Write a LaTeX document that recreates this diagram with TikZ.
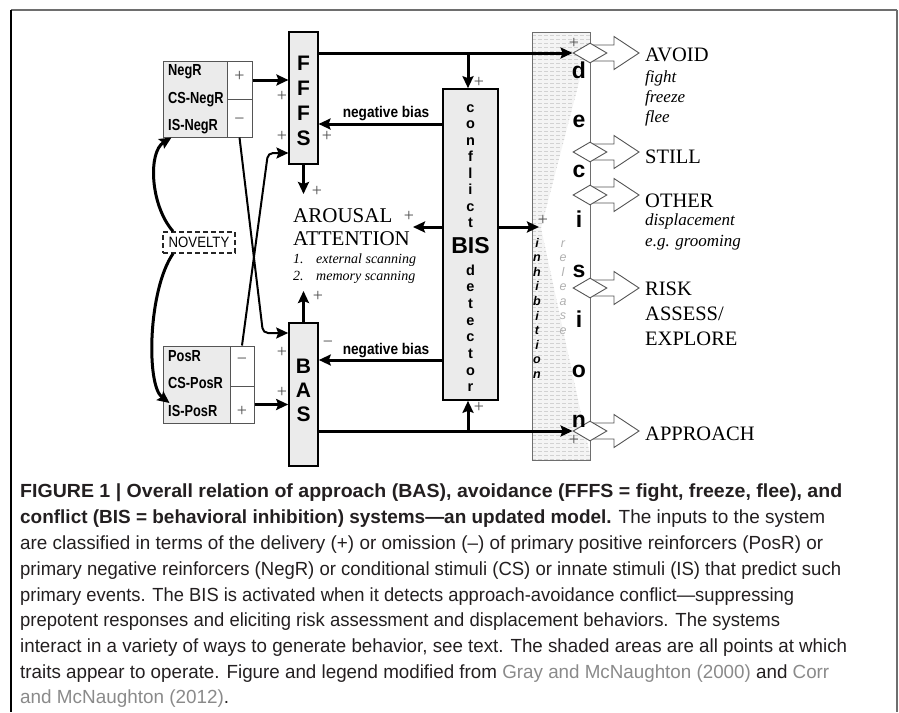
\documentclass[tikz,border=0pt]{standalone}
\usepackage{fontspec}
\usepackage{graphicx}
\setmainfont{Liberation Serif}
\setsansfont{Liberation Sans}
\newfontfamily\narrowf[FakeStretch=0.88]{Liberation Sans}
\newfontfamily\inputf[FakeStretch=0.8]{Liberation Sans}
\newfontfamily\capfont{Liberation Sans}
\usetikzlibrary{arrows.meta,shapes.geometric}
\definecolor{boxgray}{HTML}{EBEBEB}
\definecolor{bordergray}{HTML}{555555}
\definecolor{capgray}{HTML}{8A8A8A}
\definecolor{captext}{HTML}{231F20}
\definecolor{framegray}{HTML}{6E6E6E}
\definecolor{relgray}{HTML}{B0B0B0}
\definecolor{shadegray}{HTML}{F4F4F4}
\definecolor{dashgray}{HTML}{D2D2D2}
\tikzset{
 sysbox/.style={draw=black, line width=1.6pt, fill=boxgray, inner sep=0pt},
 inbox/.style={draw=bordergray, line width=1pt, fill=boxgray, inner sep=0pt},
 cell/.style={draw=bordergray, line width=1pt, fill=white, inner sep=0pt},
 arr/.style={line width=3pt, -{Stealth[length=12pt,width=11pt,inset=2pt]}},
 thinarr/.style={line width=2pt, rounded corners=5pt, -{Stealth[length=12pt,width=11pt,inset=2pt]}},
 curvearr/.style={line width=3pt, -{Stealth[length=12pt,width=11pt,inset=2pt]}},
 pl/.style={font=\fontsize{18}{18}\selectfont, text=black!70, inner sep=0pt},
 sysl/.style={font=\sffamily\bfseries\fontsize{21}{21}\selectfont, inner sep=0pt, anchor=base},
 bisl/.style={font=\sffamily\bfseries\fontsize{14.5}{14.5}\selectfont, inner sep=0pt, anchor=base},
 bigl/.style={font=\sffamily\bfseries\fontsize{23}{23}\selectfont, inner sep=0pt, anchor=base},
 decl/.style={font=\sffamily\bfseries\fontsize{23}{23}\selectfont, inner sep=0pt, anchor=base},
 inhl/.style={font=\sffamily\bfseries\itshape\fontsize{12.5}{12.5}\selectfont, inner sep=0pt, anchor=base},
 rell/.style={font=\sffamily\itshape\fontsize{12.5}{12.5}\selectfont, text=relgray, inner sep=0pt, anchor=base},
 inl/.style={font=\inputf\bfseries\fontsize{16}{16}\selectfont, inner sep=0pt, anchor=base west},
 outl/.style={font=\fontsize{20.5}{20.5}\selectfont, inner sep=0pt, anchor=base west},
 outi/.style={font=\itshape\fontsize{17}{17}\selectfont, inner sep=0pt, anchor=base west},
 ari/.style={font=\itshape\fontsize{14}{14}\selectfont, inner sep=0pt, anchor=base west},
 diam/.style={diamond, draw=bordergray, line width=0.9pt, fill=white, minimum width=34pt, minimum height=20pt, inner sep=0pt},
 blk/.style={draw=bordergray, line width=0.9pt, fill=white},
 novbox/.style={draw=black!85, line width=1.4pt, dash pattern=on 5pt off 3pt, minimum width=72pt, minimum height=21pt, inner sep=0pt, font=\narrowf\fontsize{15}{15}\selectfont},
 capl/.style={font=\capfont\fontsize{19}{19}\selectfont, text=captext, inner sep=0pt, anchor=base west},
 biasl/.style={font=\narrowf\bfseries\fontsize{15.5}{15.5}\selectfont, inner sep=0pt, anchor=base},
}
\begin{document}
\begin{tikzpicture}[x=1pt,y=-1pt]
\useasboundingbox (0,0) rectangle (899,712);
% frame
\draw[framegray, line width=2pt] (11,10) -- (897,10);
\draw[black, line width=2pt] (11,10) -- (11,712);
\draw[framegray, line width=2pt] (897,10) -- (897,712);

% decision column with shading
\begin{scope}
\clip (532,32) -- (590,32) -- (590,40) -- (541,228) -- (590,455) -- (590,460) -- (532,460) -- cycle;
\fill[shadegray] (532,32) rectangle (590,460);
\foreach \yy in {35,39,...,460} \draw[dashgray, line width=0.7pt, dash pattern=on 4pt off 2pt] (532,\yy) -- (590,\yy);
\end{scope}
\node[draw=framegray, line width=0.9pt, minimum width=58pt, minimum height=428pt, inner sep=0pt] (dec) at (561,246) {};

% block arrows
\foreach \yy in {53,152,195,288,431} {
  \draw[blk] (590,\yy-8) -- (614,\yy-8) -- (614,\yy-16.5) -- (639,\yy) -- (614,\yy+16.5) -- (614,\yy+8) -- (590,\yy+8);
}
\node[diam] (dc1) at (590,53) {};
\node[diam] (dc2) at (590,152) {};
\node[diam] (dc3) at (590,195) {};
\node[diam] (dc4) at (590,288) {};
\node[diam] (dc5) at (590,431) {};

% decision letters
\foreach \c [count=\i] in {d,e,c,i,s,i,o,n} \node[decl] (dl\i) at (579,{78+(\i-1)*49.9}) {\c};
\foreach \c [count=\i] in {i,n,h,i,b,i,t,i,o,n} \node[inhl] (ih\i) at (537,{247+(\i-1)*14.6}) {\c};
\foreach \c [count=\i] in {r,e,l,e,a,s,e} \node[rell] (rl\i) at (563,{247+(\i-1)*14.5}) {\c};

% input boxes
\node[inbox, minimum width=89pt, minimum height=76pt] (negbox) at (207.5,99) {};
\node[cell, minimum width=25pt, minimum height=38pt] (negp) at (239.5,80) {};
\node[cell, minimum width=25pt, minimum height=38pt] (negm) at (239.5,118) {};
\node[inl] (n1) at (168,75) {NegR};
\node[inl] (n2) at (168,103) {CS-NegR};
\node[inl] (n3) at (168,130) {IS-NegR};
\node[pl] (np) at (239.5,76) {+};
\node[pl] (nm) at (239.5,121) {−};

\node[inbox, minimum width=91pt, minimum height=77pt] (posbox) at (208.5,384.5) {};
\node[cell, minimum width=24pt, minimum height=40pt] (posm) at (242,366) {};
\node[cell, minimum width=24pt, minimum height=37pt] (posp) at (242,404.5) {};
\node[inl] (p1) at (168,361) {PosR};
\node[inl] (p2) at (168,388) {CS-PosR};
\node[inl] (p3) at (168,416) {IS-PosR};
\node[pl] (pm) at (242,361) {−};
\node[pl] (pp) at (242,411) {+};

\node[novbox] (nov) at (199,242.5) {NOVELTY};

% systems
\node[sysbox, minimum width=28.5pt, minimum height=132pt] (fffs) at (303.5,98) {};
\node[sysbox, minimum width=29pt, minimum height=143pt] (bas) at (303.5,394.5) {};
\node[sysbox, minimum width=55pt, minimum height=311pt] (bis) at (470.5,244.5) {};
\foreach \c [count=\i] in {F,F,F,S} \node[sysl] (ff\i) at (303.5,{70+(\i-1)*25}) {\c};
\foreach \c [count=\i] in {B,A,S} \node[sysl] (ba\i) at (303.5,{373+(\i-1)*24}) {\c};
\foreach \c [count=\i] in {c,o,n,f,l,i,c,t} \node[bisl] (cf\i) at (470.5,{112+(\i-1)*16.5}) {\c};
\node[bigl] (bisname) at (470.5,253) {BIS};
\foreach \c [count=\i] in {d,e,t,e,c,t,o,r} \node[bisl] (dt\i) at (470.5,{275+(\i-1)*16.7}) {\c};

% coordinates
\coordinate (j1) at (468,53);
\coordinate (j2) at (468,431);
\coordinate (nbF) at (0,124);
\coordinate (nbB) at (0,360);
\coordinate (arT) at (413,227);
\coordinate (inT) at (539,227);
\coordinate (fd) at (303.5,194);
\coordinate (bu) at (303.5,291);
\coordinate (x1) at (263,333);
\coordinate (x2) at (268,153);

% connectors
\draw[arr] (negp.east) -- (negp.east -| fffs.west);
\draw[arr] (posp.east) -- (posp.east -| bas.west);
\draw[arr] (fffs.east |- dc1) -- (dc1.west);
\draw[arr] (j1) -- (j1 |- bis.north);
\draw[arr] (bas.east |- dc5) -- (dc5.west);
\draw[arr] (j2) -- (j2 |- bis.south);
\draw[arr] (bis.west |- nbF) -- (fffs.east |- nbF);
\draw[arr] (bis.west |- nbB) -- (bas.east |- nbB);
\draw[arr] (bis.west |- arT) -- (arT);
\draw[arr] (bis.east |- inT) -- (inT);
\draw[arr] (fffs.south) -- (fd);
\draw[arr] (bas.north) -- (bu);
\draw[thinarr] (negm.south) -- (x1) -- (x1 -| bas.west);
\draw[thinarr] (posm.north) -- (x2) -- (x2 -| fffs.west);
\draw[curvearr] ([xshift=-26pt]nov.north) .. controls (150,205) and (148,152) .. ([xshift=9pt]negbox.south west);
\draw[curvearr] ([xshift=-26pt]nov.south) .. controls (148,290) and (146,385) .. ([xshift=7pt,yshift=-18.5pt]posbox.west);

% bias labels
\node[biasl] (nb1) at (386,117) {negative bias};
\node[biasl] (nb2) at (386,354) {negative bias};

% plus signs
\node[pl] (q1) at (282,96) {+};
\node[pl] (q2) at (282,136) {+};
\node[pl] (q3) at (327,136) {+};
\node[pl] (q4) at (317,191) {+};
\node[pl] (q5) at (479,82) {+};
\node[pl] (q6) at (409,216) {+};
\node[pl] (q7) at (479,407) {+};
\node[pl] (q8) at (282,352) {+};
\node[pl] (q9) at (282,392) {+};
\node[pl] (q10) at (328,344) {−};
\node[pl] (q11) at (574,43) {+};
\node[pl] (q12) at (543,220) {+};
\node[pl] (q13) at (574,440) {+};
\node[pl] (q14) at (318,296) {+};

% arousal
\node[outl, font=\fontsize{21}{21}\selectfont] (aro) at (293,222) {AROUSAL};
\node[outl, font=\fontsize{21}{21}\selectfont] (att) at (293,245) {ATTENTION};
\node[ari] (a1n) at (293,263) {1.};
\node[ari] (a1) at (316,263) {external scanning};
\node[ari] (a2n) at (293,280) {2.};
\node[ari] (a2) at (316,280) {memory scanning};

% outputs
\node[outl] (o1) at (645,61.5) {AVOID};
\node[outi] (o1a) at (645,82) {fight};
\node[outi] (o1b) at (645,102) {freeze};
\node[outi] (o1c) at (645,122) {flee};
\node[outl] (o2) at (645,163) {STILL};
\node[outl] (o3) at (645,207) {OTHER};
\node[outi] (o3a) at (645,225) {displacement};
\node[outi] (o3b) at (645,246) {e.g. grooming};
\node[outl] (o4) at (645,295) {RISK};
\node[outl] (o4a) at (645,320) {ASSESS/};
\node[outl] (o4b) at (645,345) {EXPLORE};
\node[outl] (o5) at (645,440) {APPROACH};

% caption
\node[capl] (c1) at (20,497) {\resizebox{822pt}{\height}{\bfseries FIGURE 1 | Overall relation of approach (BAS), avoidance (FFFS = fight, freeze, flee), and}};
\node[capl] (c2) at (20,523) {\resizebox{805pt}{\height}{{\bfseries conflict (BIS = behavioral inhibition) systems—an updated model.} The inputs to the system}};
\node[capl] (c3) at (20,549) {\resizebox{803pt}{\height}{are classified in terms of the delivery (+) or omission (–) of primary positive reinforcers (PosR) or}};
\node[capl] (c4) at (20,575) {\resizebox{821pt}{\height}{primary negative reinforcers (NegR) or conditional stimuli (CS) or innate stimuli (IS) that predict such}};
\node[capl] (c5) at (20,601) {\resizebox{774pt}{\height}{primary events. The BIS is activated when it detects approach-avoidance conflict—suppressing}};
\node[capl] (c6) at (20,626) {\resizebox{760pt}{\height}{prepotent responses and eliciting risk assessment and displacement behaviors. The systems}};
\node[capl] (c7) at (20,652) {\resizebox{827pt}{\height}{interact in a variety of ways to generate behavior, see text. The shaded areas are all points at which}};
\node[capl] (c8) at (20,678) {\resizebox{809pt}{\height}{traits appear to operate. Figure and legend modified from \textcolor{capgray}{Gray and McNaughton (2000)} and \textcolor{capgray}{Corr}}};
\node[capl] (c9) at (20,703) {\resizebox{209pt}{\height}{\textcolor{capgray}{and McNaughton (2012)}.}};
\end{tikzpicture}
\end{document}
